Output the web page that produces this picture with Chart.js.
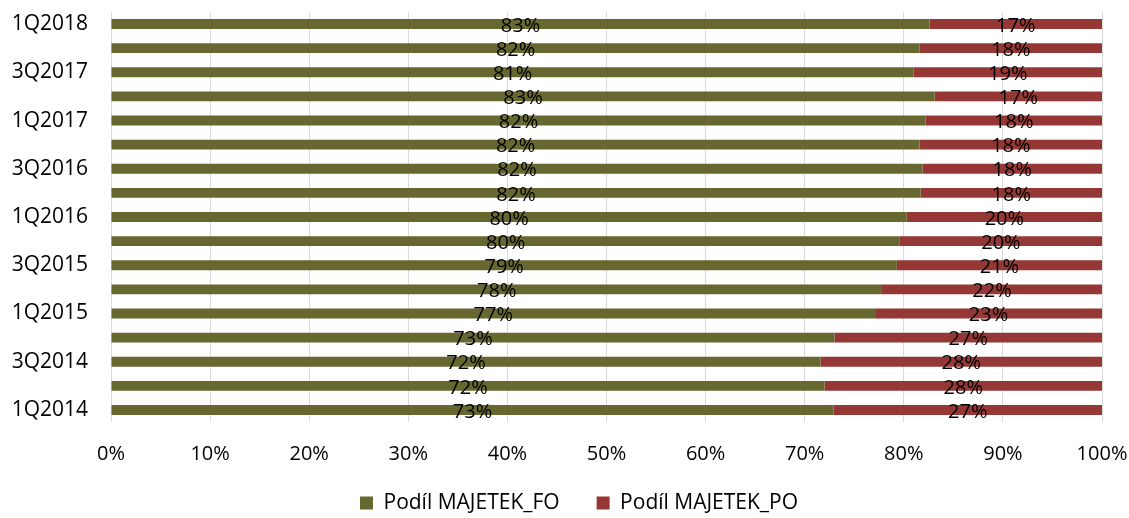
<!DOCTYPE html>
<html>
<head>
<meta charset="utf-8">
<script src="https://cdn.jsdelivr.net/npm/chart.js@4"></script>
<style>
  html, body { margin: 0; padding: 0; background: #fff; }
  #wrap { width: 1129px; height: 518px; }
</style>
</head>
<body>
<div id="wrap"><canvas id="chart"></canvas></div>
<script>
// quarters, bottom to top of the chart
const quarters = ['1Q2014', '2Q2014', '3Q2014', '4Q2014', '1Q2015', '2Q2015', '3Q2015', '4Q2015',
  '1Q2016', '2Q2016', '3Q2016', '4Q2016', '1Q2017', '2Q2017', '3Q2017', '4Q2017', '1Q2018'];

// share of physical persons (FO) in %
const podilFO = [72.9, 72.0, 71.6, 73.0, 77.1, 77.8, 79.3, 79.6,
  80.3, 81.7, 81.9, 81.6, 82.2, 83.1, 81.0, 81.6, 82.6];
// legal persons (PO) = remaining part
const podilPO = [27.1, 28.0, 28.4, 27.0, 22.9, 22.2, 20.7, 20.4,
  19.7, 18.3, 18.1, 18.4, 17.8, 16.9, 19.0, 18.4, 17.4];

const seriesNames = ['Podíl MAJETEK_FO', 'Podíl MAJETEK_PO'];
const xTicks = [0, 10, 20, 30, 40, 50, 60, 70, 80, 90, 100];

const FONT = "'Open Sans', sans-serif";

// inline labels in the middle of each bar piece
const barLabels = {
  id: 'barLabels',
  afterDatasetsDraw(chart) {
    const ctx = chart.ctx;
    ctx.save();
    ctx.font = '20px ' + FONT;
    ctx.fillStyle = '#000';
    ctx.textAlign = 'center';
    ctx.textBaseline = 'middle';
    chart.data.datasets.forEach((ds, i) => {
      const meta = chart.getDatasetMeta(i);
      meta.data.forEach((bar, j) => {
        const cx = (bar.x + bar.base) / 2;
        ctx.fillText(Math.round(ds.data[j]) + '%', cx, bar.y + 2);
      });
    });
    ctx.restore();
  }
};

// move the legend row to where the original has it
const legendPlace = {
  id: 'legendPlace',
  afterLayout(chart) {
    const lg = chart.legend;
    const p = lg.options.labels.padding;
    const start = (lg.left + p + lg.right - lg.lineWidths[0]) / 2;
    const dx = 360 - start;
    const dy = -30.5;
    lg.left += dx; lg.right += dx;
    lg.top += dy; lg.bottom += dy;
  }
};

new Chart(document.getElementById('chart'), {
  type: 'bar',
  data: {
    labels: quarters,
    datasets: [
      { label: seriesNames[0], data: podilFO, backgroundColor: '#676730', categoryPercentage: 1, barPercentage: 0.41 },
      { label: seriesNames[1], data: podilPO, backgroundColor: '#953735', categoryPercentage: 1, barPercentage: 0.41 }
    ]
  },
  options: {
    indexAxis: 'y',
    responsive: true,
    maintainAspectRatio: false,
    animation: false,
    layout: { padding: { top: 12, right: 27, left: 0, bottom: -36 } },
    scales: {
      x: {
        stacked: true,
        min: 0,
        max: 100,
        afterBuildTicks: (scale) => { scale.ticks = xTicks.map(v => ({ value: v })); },
        afterFit: (scale) => { scale.paddingLeft = 0; scale.paddingRight = 0; },
        grid: { color: '#d9d9d9', lineWidth: 1, drawTicks: false },
        border: { display: false },
        ticks: { color: '#000', font: { family: FONT, size: 20 }, padding: 20, callback: v => v + '%' }
      },
      y: {
        stacked: true,
        reverse: true,
        grid: { display: false, drawTicks: false },
        border: { display: false },
        afterFit: (scale) => { scale.width = 111; scale.paddingTop = 0; scale.paddingBottom = 0; },
        ticks: {
          color: '#000',
          font: { family: FONT, size: 21 },
          padding: 23,
          autoSkip: false,
          callback: (v, i) => (i % 2 === 0 ? quarters[i] : '')
        }
      }
    },
    plugins: {
      legend: {
        position: 'bottom',
        labels: { color: '#000', font: { family: FONT, size: 21 }, boxWidth: 13, boxHeight: 13, padding: 37 }
      },
      tooltip: { enabled: false }
    }
  },
  plugins: [barLabels, legendPlace]
});
</script>
</body>
</html>
